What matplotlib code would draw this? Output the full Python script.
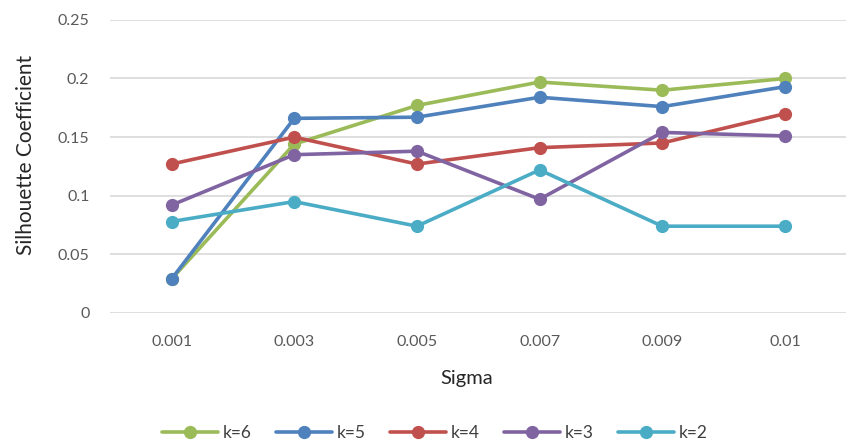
import matplotlib
matplotlib.use("Agg")
import matplotlib.pyplot as plt
import numpy as np

plt.rcParams['font.family'] = ['Lato', 'DejaVu Sans']

sigma_labels = ["0.001", "0.003", "0.005", "0.007", "0.009", "0.01"]
k6 = [0.029, 0.144, 0.177, 0.197, 0.190, 0.200]
k5 = [0.029, 0.166, 0.167, 0.184, 0.176, 0.193]
k4 = [0.127, 0.150, 0.127, 0.141, 0.145, 0.170]
k3 = [0.092, 0.135, 0.138, 0.097, 0.154, 0.151]
k2 = [0.078, 0.095, 0.074, 0.122, 0.074, 0.074]

series = [("k=6", k6, "#9BBB59"),
          ("k=5", k5, "#4F81BD"),
          ("k=4", k4, "#C0504D"),
          ("k=3", k3, "#8064A2"),
          ("k=2", k2, "#4BACC6")]

fig = plt.figure(figsize=(8.48, 4.42), dpi=100)
ax = fig.add_axes([0.130, 0.292, 0.868, 0.663])

x = np.arange(len(sigma_labels))
for name, vals, col in series:
    ax.plot(x, vals, color=col, lw=2.6, marker="o", ms=8.5, label=name,
            solid_capstyle="round", zorder=3)

ax.set_xlim(-0.5, len(sigma_labels) - 0.5)
ax.set_ylim(0, 0.25)
ax.set_yticks([0, 0.05, 0.1, 0.15, 0.2, 0.25])
ax.set_yticklabels(["0", "0.05", "0.1", "0.15", "0.2", "0.25"])
ax.set_xticks(x)
ax.set_xticklabels(sigma_labels)
ax.yaxis.grid(True, color="#D9D9D9", lw=1.2)
ax.set_axisbelow(True)
for s in ax.spines.values():
    s.set_visible(False)
ax.tick_params(length=0, labelsize=11.5, colors="#595959")
ax.tick_params(axis="x", pad=16)
ax.tick_params(axis="y", pad=15)

ax.set_ylabel("Silhouette Coefficient", fontsize=15, color="#262626")
ax.yaxis.set_label_coords(-0.101, 0.54)
ax.set_xlabel("Sigma", fontsize=14.5, color="#262626")
ax.xaxis.set_label_coords(0.484, -0.195)

fig.legend(*ax.get_legend_handles_labels(), loc="center",
           bbox_to_anchor=(0.513, 0.02), ncol=5, frameon=False,
           fontsize=12.5, handlelength=3.2, columnspacing=1.4, handletextpad=0.3,
           labelcolor="#404040")

fig.savefig("out.png", dpi=100)
